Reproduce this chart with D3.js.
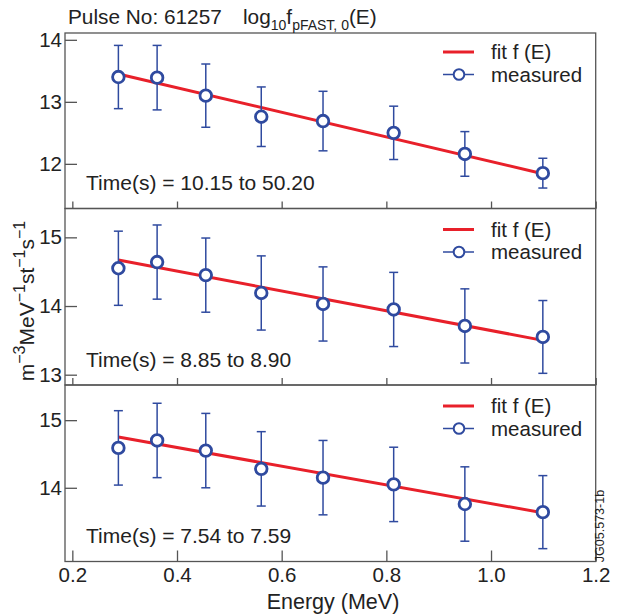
<!DOCTYPE html>
<html>
<head>
<meta charset="utf-8">
<script src="https://cdn.jsdelivr.net/npm/d3@7"></script>
<style>
  body { margin: 0; background: #fff; }
  text { font-family: "Liberation Sans", Arial, Helvetica, sans-serif; fill: #222; }
</style>
</head>
<body>
<svg id="chart"></svg>
<script>
const width = 620;
const height = 616;

// energies of the measured points (MeV)
const energy = [0.288, 0.362, 0.455, 0.561, 0.679, 0.814, 0.950, 1.099];
const xTicks = [0.2, 0.4, 0.6, 0.8, 1.0, 1.2];

// panel 1: 10.15 to 50.20 s
const meas1 = [13.40, 13.39, 13.10, 12.76, 12.69, 12.50, 12.16, 11.85];
const err1 = [0.51, 0.52, 0.51, 0.48, 0.48, 0.43, 0.36, 0.24];
const fit1 = [13.45, 11.84];
// panel 2: 8.85 to 8.90 s
const meas2 = [14.55, 14.64, 14.45, 14.19, 14.03, 13.95, 13.71, 13.55];
const err2 = [0.54, 0.54, 0.54, 0.54, 0.54, 0.54, 0.54, 0.53];
const fit2 = [14.67, 13.50];
// panel 3: 7.54 to 7.59 s
const meas3 = [14.59, 14.70, 14.55, 14.28, 14.15, 14.05, 13.76, 13.64];
const err3 = [0.55, 0.55, 0.55, 0.55, 0.55, 0.55, 0.55, 0.54];
const fit3 = [14.75, 13.63];

const timeLabels = ["Time(s) = 10.15 to 50.20", "Time(s) = 8.85 to 8.90", "Time(s) = 7.54 to 7.59"];
const yTicks = [[12, 13, 14], [13, 14, 15], [14, 15]];
const yDomains = [[11.28, 14.11], [12.85, 15.42], [12.91, 15.52]];

const panels = [
  {meas: meas1, err: err1, fit: fit1, top: 33, bottom: 208.5},
  {meas: meas2, err: err2, fit: fit2, top: 208.5, bottom: 385},
  {meas: meas3, err: err3, fit: fit3, top: 385, bottom: 561.5}
];

const left = 65, right = 595.7;
const blue = "#2f4a9f", red = "#e8202a", frame = "#555";
const fontFam = "Liberation Sans, Arial, sans-serif";

var svg = d3.select("#chart")
    .attr("width", width)
    .attr("height", height)
    .attr("viewBox", `0 0 ${width} ${height}`);

var x = d3.scaleLinear().domain([0.186, 1.2]).range([left, right]);

panels.forEach((p, i) => {
    var y = d3.scaleLinear().domain(yDomains[i]).range([p.bottom, p.top]);
    var g = svg.append("g");

    // y axis, ticks inward
    var ya = g.append("g")
        .attr("transform", `translate(${left},0)`)
        .call(d3.axisLeft(y).tickValues(yTicks[i]).tickSize(-12).tickPadding(3).tickFormat(d3.format("d")));
    ya.select(".domain").remove();
    ya.selectAll("line").attr("stroke", frame).attr("stroke-width", 1.3);
    ya.selectAll("text").attr("font-size", 20.5).attr("font-family", fontFam).attr("fill", "#222");

    // x axis ticks at the bottom of each panel
    var xa = g.append("g")
        .attr("transform", `translate(0,${p.bottom})`)
        .call(d3.axisBottom(x).tickValues(xTicks).tickSize(i == 2 ? -11 : -7).tickPadding(6)
            .tickFormat(i == 2 ? d3.format(".1f") : ""));
    xa.select(".domain").remove();
    xa.selectAll("line").attr("stroke", frame).attr("stroke-width", 1.3);
    xa.selectAll("text").attr("font-size", 20.5).attr("font-family", fontFam).attr("fill", "#222");

    // frame
    g.append("rect")
        .attr("x", left).attr("y", p.top)
        .attr("width", right - left).attr("height", p.bottom - p.top)
        .attr("fill", "none").attr("stroke", frame).attr("stroke-width", 1.3);

    // fit line
    g.append("line")
        .attr("x1", x(energy[0])).attr("x2", x(energy[energy.length - 1]))
        .attr("y1", y(p.fit[0])).attr("y2", y(p.fit[1]))
        .attr("stroke", red).attr("stroke-width", 3);

    // error bars
    var pts = energy.map((e, j) => ({e: e, v: p.meas[j], err: p.err[j]}));
    var eb = g.append("g").attr("stroke", blue).attr("stroke-width", 1.5);
    eb.selectAll(".bar").data(pts).enter().append("line")
        .attr("x1", d => x(d.e)).attr("x2", d => x(d.e))
        .attr("y1", d => y(d.v + d.err)).attr("y2", d => y(d.v - d.err));
    eb.selectAll(".capt").data(pts).enter().append("line")
        .attr("x1", d => x(d.e) - 4.5).attr("x2", d => x(d.e) + 4.5)
        .attr("y1", d => y(d.v + d.err)).attr("y2", d => y(d.v + d.err));
    eb.selectAll(".capb").data(pts).enter().append("line")
        .attr("x1", d => x(d.e) - 4.5).attr("x2", d => x(d.e) + 4.5)
        .attr("y1", d => y(d.v - d.err)).attr("y2", d => y(d.v - d.err));

    g.selectAll("circle").data(pts).enter().append("circle")
        .attr("cx", d => x(d.e)).attr("cy", d => y(d.v)).attr("r", 5.8)
        .attr("fill", "#fff").attr("stroke", blue).attr("stroke-width", 2.8);

    // legend
    var ly = p.top + (i == 0 ? 19 : 21);
    g.append("line").attr("x1", 443).attr("x2", 474).attr("y1", ly).attr("y2", ly)
        .attr("stroke", red).attr("stroke-width", 3);
    g.append("text").attr("x", 491).attr("y", ly).attr("dy", "0.35em")
        .attr("font-size", 20.5).text("fit f (E)");
    var ly2 = ly + 22.5;
    g.append("line").attr("x1", 443).attr("x2", 474).attr("y1", ly2).attr("y2", ly2)
        .attr("stroke", blue).attr("stroke-width", 1.5);
    g.append("circle").attr("cx", 459).attr("cy", ly2).attr("r", 5.3)
        .attr("fill", "#fff").attr("stroke", blue).attr("stroke-width", 2);
    g.append("text").attr("x", 491).attr("y", ly2).attr("dy", "0.35em")
        .attr("font-size", 20.5).text("measured");

    // time label
    g.append("text").attr("x", 86).attr("y", p.bottom - 18.5)
        .attr("font-size", 21).text(timeLabels[i]);
});

// title
var title = svg.append("text").attr("x", 68).attr("y", 24).attr("font-size", 20.8);
title.append("tspan").text("Pulse No: 61257");
title.append("tspan").attr("x", 243).text("log");
title.append("tspan").attr("font-size", 14).attr("dy", 6).text("10");
title.append("tspan").attr("dy", -6).text("f");
title.append("tspan").attr("font-size", 14).attr("dy", 6).text("pFAST, 0");
title.append("tspan").attr("dy", -6).text("(E)");

// y axis label, superscripts shift left once rotated
var yl = svg.append("text")
    .attr("transform", "translate(33.5,301) rotate(-90)")
    .attr("text-anchor", "middle").attr("font-size", 21);
[["m", "\u22123"], ["MeV", "\u22121"], ["st", "\u22121"], ["s", "\u22121"]].forEach((s, k) => {
    yl.append("tspan").attr("dy", k == 0 ? 0 : 9).text(s[0]);
    yl.append("tspan").attr("font-size", 16).attr("dy", -9).text(s[1]);
});

// x axis label
svg.append("text").attr("x", 333).attr("y", 609)
    .attr("text-anchor", "middle").attr("font-size", 21.5).text("Energy (MeV)");

// figure code
svg.append("text")
    .attr("transform", "translate(604,526) rotate(-90)")
    .attr("text-anchor", "middle").attr("font-size", 12.5).text("JG05.573-1b");
</script>
</body>
</html>
